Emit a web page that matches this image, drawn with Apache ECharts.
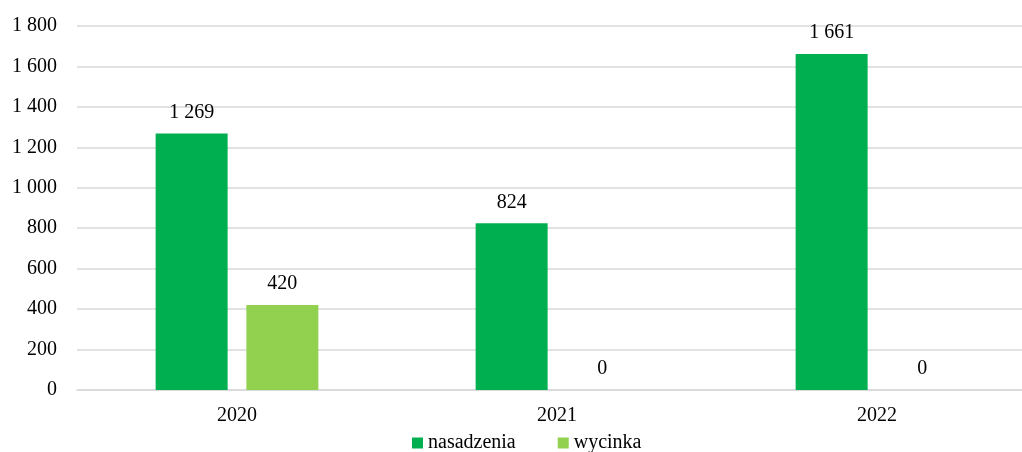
<!DOCTYPE html>
<html><head><meta charset="utf-8">
<script src="https://cdn.jsdelivr.net/npm/echarts@6/dist/echarts.min.js"></script>
<style>html,body{margin:0;padding:0;background:#fff;overflow:hidden;width:1022px;height:452px}#c{width:1037px;height:452px}</style>
</head><body><div id="c"></div>
<script>
const categories = ['2020', '2021', '2022'];
const nasadzenia = [1269, 824, 1661];
const wycinka = [420, 0, 0];
const yTicks = [0, 200, 400, 600, 800, 1000, 1200, 1400, 1600, 1800];

const fmt = v => String(v).replace(/\B(?=(\d{3})+(?!\d))/g, ' ');
const font = '"Liberation Serif", "Times New Roman", serif';
const chart = echarts.init(document.getElementById('c'));
chart.setOption({
  animation: false,
  textStyle: { fontFamily: font },
  grid: { left: 77, top: 26, right: 0, bottom: 62, containLabel: false },
  legend: {
    bottom: -1, left: 412, padding: 0, itemWidth: 11, itemHeight: 11, itemGap: 42, icon: 'rect',
    textStyle: { fontFamily: font, fontSize: 20, color: '#000' },
    data: ['nasadzenia', 'wycinka']
  },
  xAxis: {
    type: 'category', data: categories,
    axisLine: { show: true, lineStyle: { color: '#d9d9d9', width: 1.5 } },
    axisTick: { show: false },
    axisLabel: { fontFamily: font, fontSize: 20, color: '#000', margin: 16 }
  },
  yAxis: {
    type: 'value', min: yTicks[0], max: yTicks[yTicks.length - 1], interval: 200,
    axisLine: { show: false }, axisTick: { show: false },
    splitLine: { lineStyle: { color: '#d9d9d9', width: 1.5 } },
    axisLabel: { fontFamily: font, fontSize: 20, color: '#000', margin: 20, formatter: fmt }
  },
  series: [
    { name: 'nasadzenia', type: 'bar', data: nasadzenia, barWidth: 72, barGap: '26%',
      itemStyle: { color: '#00B050' },
      label: { show: true, position: 'top', distance: 11, fontFamily: font, fontSize: 20, color: '#000', formatter: p => fmt(p.value) } },
    { name: 'wycinka', type: 'bar', data: wycinka, barWidth: 72,
      itemStyle: { color: '#92D050' },
      label: { show: true, position: 'top', distance: 11, fontFamily: font, fontSize: 20, color: '#000', formatter: p => fmt(p.value) } }
  ]
});
</script></body></html>
